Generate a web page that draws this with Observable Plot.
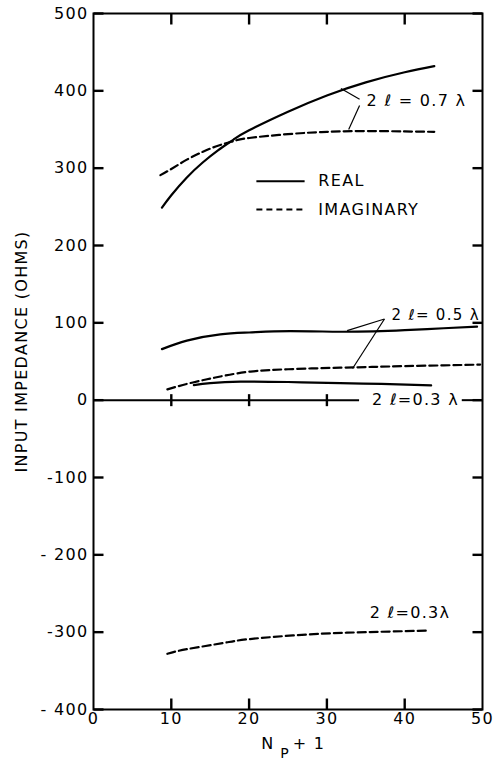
<!DOCTYPE html>
<html><head><meta charset="utf-8">
<script src="https://cdn.jsdelivr.net/npm/d3@7"></script>
<script src="https://cdn.jsdelivr.net/npm/@observablehq/plot@0.6"></script>
<style>
body{margin:0;background:#fff}
svg{display:block}
#chart svg text{font-family:"DejaVu Sans",sans-serif;letter-spacing:1.3px}
</style>
</head><body><div id="chart"></div>
<script>
// Axis ticks and labels
const xTicks = [0, 10, 20, 30, 40, 50];
const xInnerTicks = [10, 20, 30, 40];
const zeroLineTicks = [10, 20, 30];
const yTicks = [-400, -300, -200, -100, 0, 100, 200, 300, 400, 500];
const yTickLabels = ["- 400", "-300", "- 200", "-100", "0", "100", "200", "300", "400", "500"];

// Series (x = Np+1, y = ohms)
const real07X = [8.8, 10, 12, 14, 16, 18, 20, 25, 30, 35, 40, 43.8];
const real07Y = [249, 265, 288, 307, 323, 337, 349, 373, 394, 411, 424, 432];
const imag07X = [8.6, 10, 12, 14, 16, 18, 20, 25, 30, 35, 40, 43.8];
const imag07Y = [291, 299, 311, 321, 329, 335, 339, 344, 347, 348, 347.5, 347];
const real05X = [8.8, 12, 16.3, 20, 23.2, 28, 31.7, 36, 40, 45, 49.3];
const real05Y = [66, 77, 85, 87.5, 89, 89, 88.5, 89, 90.5, 93, 95];
const imag05X = [9.5, 12, 14.6, 17, 20.2, 25, 31.7, 36, 40, 45, 49.7];
const imag05Y = [14, 21, 27, 32, 37, 40, 42, 43, 44, 45, 46];
const real03X = [12.9, 15, 18.9, 25, 31.7, 37, 43.4];
const real03Y = [19.5, 22, 24, 23.5, 22, 21, 19];
const imag03X = [9.5, 12, 16.7, 20, 27.5, 35, 42.9];
const imag03Y = [-328, -322, -314, -309, -303, -300, -298];

// Annotations
const curveLabels = ["2 ℓ = 0.7 λ", "2 ℓ= 0.5 λ", "2 ℓ=0.3 λ", "2 ℓ=0.3λ"];
const curveLabelX = [35.1, 38.3, 35.8, 35.5];
const curveLabelY = [387, 110, 0, -275];
const curveLabelSize = [16, 15, 16, 16];
const leaderX1 = [31.8, 32.8, 32.6, 33.3];
const leaderY1 = [403, 350, 90, 41];
const leaderX2 = [34.2, 34.2, 37.4, 37.4];
const leaderY2 = [389, 381, 105, 105];
const legendNames = ["REAL", "IMAGINARY"];
const legendY = [283, 246.6];
const legendX1 = 21.0, legendX2 = 27.2, legendTextX = 28.9;
const zeroSegX1 = [0, 47.4];
const zeroSegX2 = [34.2, 50];

const xDomain = [0, 50], yDomain = [-400, 500];
const toRows = (xs, ys) => xs.map((x, i) => ({x, y: ys[i]}));
const solid = [toRows(real07X, real07Y), toRows(real05X, real05Y), toRows(real03X, real03Y)];
const dashed = [toRows(imag07X, imag07Y), toRows(imag05X, imag05Y), toRows(imag03X, imag03Y)];
const labels = curveLabels.map((t, i) => ({t, x: curveLabelX[i], y: curveLabelY[i], s: curveLabelSize[i]}));
const leaders = leaderX1.map((x1, i) => ({x1, y1: leaderY1[i], x2: leaderX2[i], y2: leaderY2[i]}));
const legend = legendNames.map((n, i) => ({n, y: legendY[i], dash: i === 1}));
const zeroSegs = zeroSegX1.map((x1, i) => ({x1, x2: zeroSegX2[i]}));

const W = 501, H = 766, ML = 93, MR = 19, MT = 13, MB = 57;
const FW = W - ML - MR, FH = H - MT - MB;
// tick lengths converted from pixels to data units
const xPerPx = (xDomain[1] - xDomain[0]) / FW, yPerPx = (yDomain[1] - yDomain[0]) / FH;
const yTickLen = 10 * xPerPx, xTickLen = 11 * yPerPx, zTick = 6 * yPerPx;
const ink = "#000";
const tickOpts = {stroke: ink, strokeWidth: 2.4};
const chart = Plot.plot({
  width: W, height: H,
  marginLeft: ML, marginRight: MR, marginTop: MT, marginBottom: MB,
  style: {fontFamily: "DejaVu Sans", fontSize: "16px", background: "#fff"},
  x: {domain: xDomain, axis: null},
  y: {domain: yDomain, axis: null},
  marks: [
    Plot.frame({stroke: ink, strokeWidth: 2}),
    // inward ticks
    Plot.link(yTicks, {x1: () => xDomain[0], x2: () => xDomain[0] + yTickLen, y1: d => d, y2: d => d, ...tickOpts}),
    Plot.link(yTicks, {x1: () => xDomain[1] - yTickLen, x2: () => xDomain[1], y1: d => d, y2: d => d, ...tickOpts}),
    Plot.link(xInnerTicks, {x1: d => d, x2: d => d, y1: () => yDomain[1] - xTickLen, y2: () => yDomain[1], ...tickOpts}),
    Plot.link(xInnerTicks, {x1: d => d, x2: d => d, y1: () => yDomain[0], y2: () => yDomain[0] + xTickLen, ...tickOpts}),
    // tick labels
    Plot.text(yTicks, {y: d => d, text: (d, i) => yTickLabels[i], frameAnchor: "left", textAnchor: "end", dx: -5, fontSize: 16, fill: ink}),
    Plot.text(xTicks, {x: d => d, text: d => String(d), frameAnchor: "bottom", lineAnchor: "top", dy: 3, fontSize: 16, fill: ink}),
    // zero line with crossing ticks
    Plot.ruleY(zeroSegs, {y: () => 0, x1: "x1", x2: "x2", stroke: ink, strokeWidth: 2}),
    Plot.link(zeroLineTicks, {x1: d => d, x2: d => d, y1: () => -zTick, y2: () => zTick, ...tickOpts}),
    // curves
    ...solid.map(d => Plot.line(d, {x: "x", y: "y", curve: "natural", stroke: ink, strokeWidth: 2.2})),
    ...dashed.map(d => Plot.line(d, {x: "x", y: "y", curve: "natural", stroke: ink, strokeWidth: 2.2, strokeDasharray: "8,4"})),
    // leaders
    Plot.link(leaders, {x1: "x1", y1: "y1", x2: "x2", y2: "y2", stroke: ink, strokeWidth: 1.2}),
    Plot.text(labels, {x: "x", y: "y", text: "t", fontSize: "s", textAnchor: "start", fill: ink}),
    // legend
    Plot.ruleY(legend.filter(d => !d.dash), {y: "y", x1: () => legendX1, x2: () => legendX2, stroke: ink, strokeWidth: 2}),
    Plot.ruleY(legend.filter(d => d.dash), {y: "y", x1: () => legendX1, x2: () => legendX2, stroke: ink, strokeWidth: 2, strokeDasharray: "6,4"}),
    Plot.text(legend, {x: () => legendTextX, y: "y", text: "n", textAnchor: "start", fill: ink, fontSize: 16}),
    // axis titles
    Plot.text(["INPUT IMPEDANCE (OHMS)"], {text: d => d, frameAnchor: "left", textAnchor: "middle", rotate: -90, dx: -72, dy: -10, fontSize: 16, fill: ink}),
    Plot.text(["N"], {text: d => d, frameAnchor: "bottom", textAnchor: "middle", dx: -20, dy: 39, fontSize: 16, fill: ink}),
    Plot.text(["P"], {text: d => d, frameAnchor: "bottom", textAnchor: "middle", dx: -3, dy: 48, fontSize: 14, fill: ink}),
    Plot.text(["+ 1"], {text: d => d, frameAnchor: "bottom", textAnchor: "middle", dx: 21, dy: 39, fontSize: 16, fill: ink})
  ]
});
document.getElementById("chart").append(chart);
</script>
</body></html>
